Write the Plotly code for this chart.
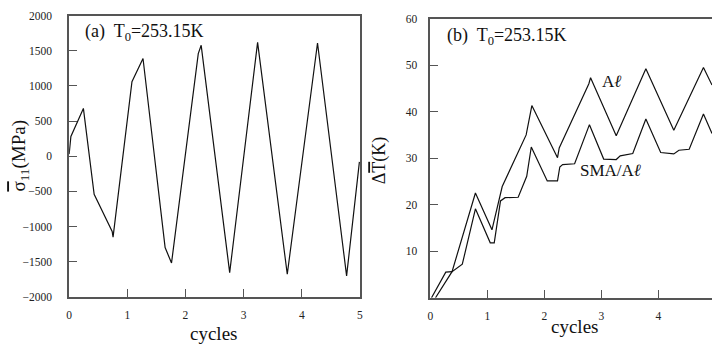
import plotly.graph_objects as go

# Panel (a): stress vs cycles
cyc_a = [0.0, 0.03, 0.245, 0.43, 0.74, 0.755, 1.08, 1.27, 1.65, 1.76, 2.22, 2.27,
         2.76, 3.24, 3.75, 4.27, 4.77, 4.99]
sig_a = [30, 282, 680, -543, -1070, -1152, 1061, 1391, -1300, -1520, 1460, 1578,
         -1657, 1620, -1680, 1611, -1703, -80]

# Panel (b): temperature rise vs cycles
cyc_al = [0.09, 0.38, 0.79, 1.08, 1.26, 1.68, 1.78, 2.23, 2.26, 2.78, 2.81, 3.26,
          3.78, 4.27, 4.79, 4.94]
dT_al = [0.0, 5.6, 22.5, 14.6, 23.9, 35.0, 41.3, 30.1, 32.2, 46.0, 47.3, 34.8,
         49.2, 36.0, 49.5, 45.7]

cyc_sma = [0.02, 0.27, 0.38, 0.5, 0.56, 0.79, 1.05, 1.12, 1.23, 1.31, 1.54, 1.69,
           1.77, 2.05, 2.23, 2.27, 2.32, 2.53, 2.79, 3.04, 3.26, 3.33, 3.55, 3.78,
           4.04, 4.27, 4.36, 4.54, 4.79, 4.94]
dT_sma = [0.0, 5.5, 5.6, 6.6, 7.2, 19.1, 11.8, 11.8, 20.8, 21.5, 21.6, 26.1,
          32.4, 25.1, 25.1, 28.1, 28.6, 28.8, 37.2, 29.8, 29.7, 30.5, 31.0, 38.4,
          31.2, 30.9, 31.7, 31.9, 39.5, 35.3]

xticks_a = [0, 1, 2, 3, 4, 5]
yticks_a = [-2000, -1500, -1000, -500, 0, 500, 1000, 1500, 2000]
xticks_b = [0, 1, 2, 3, 4]
yticks_b = [10, 20, 30, 40, 50, 60]

W, H = 715, 353
FONT = "Liberation Serif"
LC = "#111111"
AX = "#555555"

fig = go.Figure()
fig.add_trace(go.Scatter(x=cyc_a, y=sig_a, mode="lines", line=dict(color=LC, width=1.2),
                         xaxis="x", yaxis="y", showlegend=False))
fig.add_trace(go.Scatter(x=cyc_al, y=dT_al, mode="lines", line=dict(color=LC, width=1.2),
                         xaxis="x2", yaxis="y2", showlegend=False))
fig.add_trace(go.Scatter(x=cyc_sma, y=dT_sma, mode="lines", line=dict(color=LC, width=1.2),
                         xaxis="x2", yaxis="y2", showlegend=False))

common = dict(showgrid=False, zeroline=False, showline=True, linecolor=AX, linewidth=1.5,
              ticks="inside", ticklen=8, tickwidth=1.3, tickcolor=AX,
              tickfont=dict(family=FONT, size=11.5, color="#222"))

fig.update_layout(
    width=W, height=H, margin=dict(l=0, r=0, t=0, b=0),
    font=dict(family=FONT, size=12, color="#222"),
    plot_bgcolor="white", paper_bgcolor="white",
    xaxis=dict(domain=[66.7 / W, 360 / W], range=[0, 5], tickvals=xticks_a,
               mirror=True, anchor="y", ticklabelstandoff=7, **common),
    yaxis=dict(domain=[1 - 301 / H, 1 - 10 / H], range=[-2000, 2000], tickvals=yticks_a,
               mirror=True, anchor="x", ticklabelstandoff=13, **common),
    xaxis2=dict(domain=[431 / W, 1.0], range=[0, 4.94], tickvals=xticks_b,
                mirror=True, anchor="y2", ticklabelstandoff=7, **common),
    yaxis2=dict(domain=[1 - 302 / H, 1 - 13 / H], range=[0, 60], tickvals=yticks_b,
                mirror=False, anchor="x2", ticklabelstandoff=9, **common),
)

def ann(text, x, y, size, angle=0, xanchor="center"):
    fig.add_annotation(text=text, x=x / W, y=1 - y / H, xref="paper", yref="paper",
                       showarrow=False, textangle=angle, xanchor=xanchor, yanchor="middle",
                       font=dict(family=FONT, size=size, color="#111"))

ann("(a)  T<sub>0</sub>=253.15K", 81, 27, 18, xanchor="left")
ann("(b)  T<sub>0</sub>=253.15K", 446, 32, 18, xanchor="left")
ann("cycles", 212, 339, 19)
ann("cycles", 576, 332, 19)
ann("<span style='text-decoration:overline'>σ</span><sub>11</sub>(MPa)", 17, 155, 19, angle=-90)
ann("Δ<span style='text-decoration:overline'>T</span>(K)", 380, 160, 18, angle=-90)
ann("A<i>ℓ</i>", 602, 78, 17, xanchor="left")
ann("SMA/A<i>ℓ</i>", 580, 170, 17, xanchor="left")

fig.write_html("out.html")
